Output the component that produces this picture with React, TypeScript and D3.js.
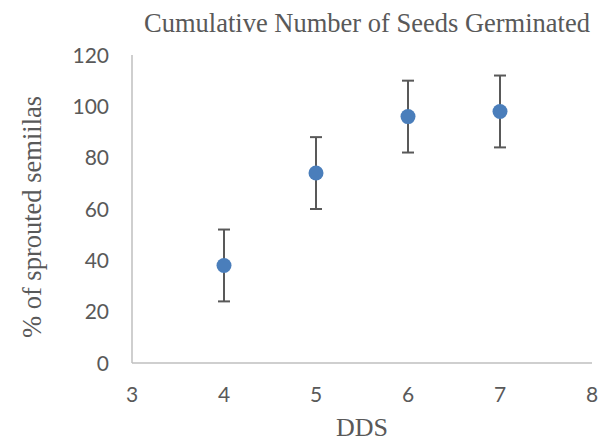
import { useEffect, useRef } from "react";
import * as d3 from "d3";

const days = [4, 5, 6, 7];
const sprouted = [38, 74, 96, 98];
const errors = [14, 14, 14, 14];
const xTicks = [3, 4, 5, 6, 7, 8];
const yTicks = [0, 20, 40, 60, 80, 100, 120];

const W = 609, H = 443;

export default function App() {
  const ref = useRef<SVGSVGElement>(null);

  useEffect(() => {
    const svg = d3.select(ref.current);
    svg.selectAll("*").remove();

    const margin = { top: 55, right: 17, bottom: 80, left: 132 };
    const x = d3.scaleLinear().domain([3, 8]).range([margin.left, W - margin.right]);
    const y = d3.scaleLinear().domain([0, 120]).range([H - margin.bottom, margin.top]);
    const grey = "#595959";

    // axis lines
    svg.append("line")
      .attr("x1", x(3)).attr("x2", x(3))
      .attr("y1", y(0)).attr("y2", y(120))
      .attr("stroke", "#bfbfbf").attr("stroke-width", 1.5);
    svg.append("line")
      .attr("x1", x(3)).attr("x2", x(8))
      .attr("y1", y(0)).attr("y2", y(0))
      .attr("stroke", "#bfbfbf").attr("stroke-width", 1.5);

    svg.selectAll(".ytick").data(yTicks).join("text")
      .attr("class", "ytick")
      .attr("x", x(3) - 23)
      .attr("y", d => y(d))
      .attr("dy", "0.36em")
      .attr("text-anchor", "end")
      .attr("font-family", "Lato, sans-serif")
      .attr("font-size", 21)
      .attr("fill", grey)
      .text(d => d);

    svg.selectAll(".xtick").data(xTicks).join("text")
      .attr("class", "xtick")
      .attr("x", d => x(d))
      .attr("y", y(0) + 39)
      .attr("text-anchor", "middle")
      .attr("font-family", "Lato, sans-serif")
      .attr("font-size", 21)
      .attr("fill", grey)
      .text(d => d);

    const pts = days.map((d, i) => ({ d, v: sprouted[i], e: errors[i] }));

    const bars = svg.selectAll(".err").data(pts).join("g").attr("class", "err")
      .attr("stroke", grey).attr("stroke-width", 2);
    bars.append("line")
      .attr("x1", p => x(p.d)).attr("x2", p => x(p.d))
      .attr("y1", p => y(p.v - p.e)).attr("y2", p => y(p.v + p.e));
    bars.append("line")
      .attr("x1", p => x(p.d) - 6).attr("x2", p => x(p.d) + 6)
      .attr("y1", p => y(p.v + p.e)).attr("y2", p => y(p.v + p.e));
    bars.append("line")
      .attr("x1", p => x(p.d) - 6).attr("x2", p => x(p.d) + 6)
      .attr("y1", p => y(p.v - p.e)).attr("y2", p => y(p.v - p.e));

    svg.selectAll("circle").data(pts).join("circle")
      .attr("cx", p => x(p.d))
      .attr("cy", p => y(p.v))
      .attr("r", 7.5)
      .attr("fill", "#4a7ebb");

    const serif = "'Liberation Serif', 'Times New Roman', serif";

    svg.append("text")
      .attr("x", 367).attr("y", 32)
      .attr("text-anchor", "middle")
      .attr("font-family", serif)
      .attr("font-size", 26.5)
      .attr("fill", grey)
      .text("Cumulative Number of Seeds Germinated");

    svg.append("text")
      .attr("transform", `translate(41, 217) rotate(-90)`)
      .attr("text-anchor", "middle")
      .attr("font-family", serif)
      .attr("font-size", 26.5)
      .attr("fill", grey)
      .text("% of sprouted semiilas");

    svg.append("text")
      .attr("x", 362)
      .attr("y", 436)
      .attr("text-anchor", "middle")
      .attr("font-family", serif)
      .attr("font-size", 26)
      .attr("fill", grey)
      .text("DDS");
  }, []);

  return (
    <svg ref={ref} width={W} height={H}
      style={{ position: "absolute", left: 0, top: 0, background: "#fff" }} />
  );
}
